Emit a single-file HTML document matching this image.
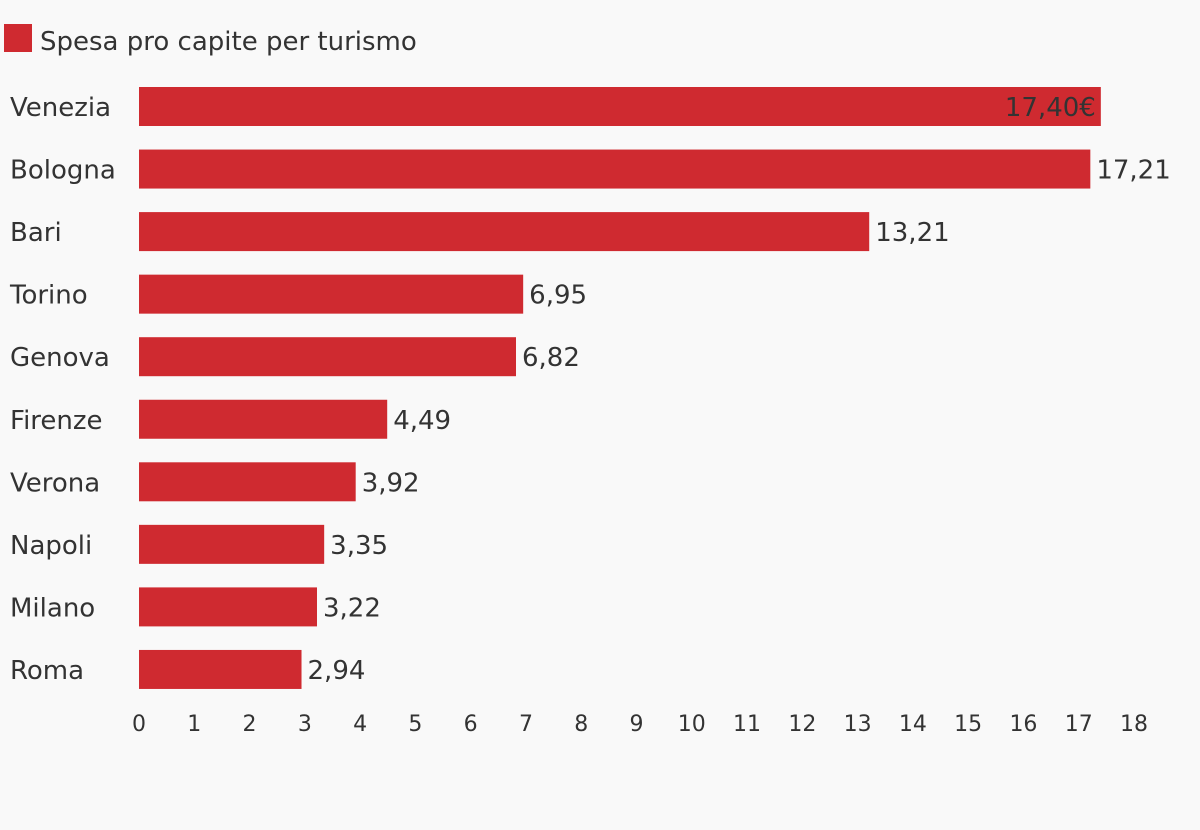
<!DOCTYPE html>
<html><head><meta charset="utf-8"><style>
body{margin:0;background:#f9f9f9;}
svg{display:block;font-family:"DejaVu Sans","Liberation Sans",sans-serif;}
</style></head><body>
<svg id="chart" width="1200" height="830">
<rect width="1200" height="830" fill="#f9f9f9"/>
<rect x="4" y="24" width="28" height="28" fill="#cf2a30"/>
<text x="40" y="50" font-size="26" fill="#333">Spesa pro capite per turismo</text>
<g id="bars"></g><g id="ticks"></g>
</svg>
<script>
const categories=["Venezia","Bologna","Bari","Torino","Genova","Firenze","Verona","Napoli","Milano","Roma"];
const values=[17.40,17.21,13.21,6.95,6.82,4.49,3.92,3.35,3.22,2.94];
const valueLabels=["17,40€","17,21","13,21","6,95","6,82","4,49","3,92","3,35","3,22","2,94"];
const tickValues=[0,1,2,3,4,5,6,7,8,9,10,11,12,13,14,15,16,17,18];
const NS="http://www.w3.org/2000/svg";
const x0=139,x1=1134,vmax=18;
const xs=v=>x0+(x1-x0)*v/vmax;
const rowY=i=>87+i*62.55;
const bh=39;
const gb=document.getElementById('bars'),gt=document.getElementById('ticks');
categories.forEach((c,i)=>{
  const y=rowY(i);
  const t=document.createElementNS(NS,'text');
  
  
  t.setAttribute('x',10);t.setAttribute('y',y+29);t.setAttribute('font-size','26');t.setAttribute('fill','#333');
  t.textContent=c;gb.appendChild(t);
  const r=document.createElementNS(NS,'rect');
  
  
  r.setAttribute('x',x0);r.setAttribute('y',y);r.setAttribute('width',xs(values[i])-x0);r.setAttribute('height',bh);r.setAttribute('fill','#cf2a30');
  gb.appendChild(r);
  const v=document.createElementNS(NS,'text');
  
  
  v.setAttribute('y',y+29);v.setAttribute('font-size','26');v.setAttribute('fill','#333');
  if(i===0){v.setAttribute('x',xs(values[i])-5);v.setAttribute('text-anchor','end');}
  else v.setAttribute('x',xs(values[i])+6);
  v.textContent=valueLabels[i];gb.appendChild(v);
});
tickValues.forEach(tv=>{
  const t=document.createElementNS(NS,'text');
  
  
  t.setAttribute('x',xs(tv));t.setAttribute('y',731);t.setAttribute('font-size','22');t.setAttribute('fill','#333');t.setAttribute('text-anchor','middle');
  t.textContent=tv;gt.appendChild(t);
});
</script>
</body></html>
